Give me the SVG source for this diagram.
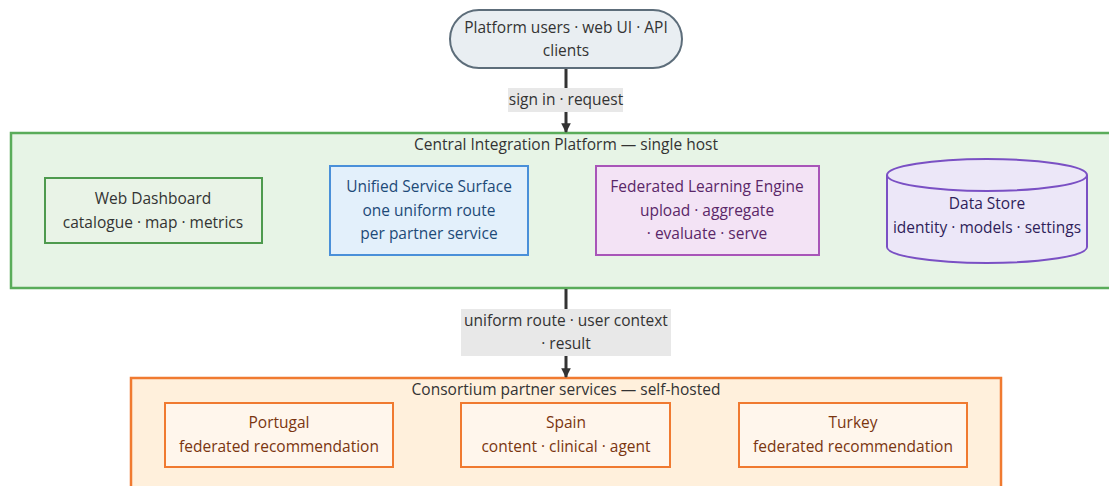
<svg xmlns="http://www.w3.org/2000/svg" width="1109" height="486" viewBox="0 0 1109 486">
  <defs>
    <marker id="arrow" viewBox="0 0 10 10" refX="9" refY="5" markerWidth="3.2" markerHeight="3.2" orient="auto-start-reverse">
      <path d="M0,0 L10,5 L0,10 z" fill="#333"/>
    </marker>
  </defs>
  <style>
    text { font-family: "Open Sans", "Liberation Sans", sans-serif; font-size: 15.5px; text-anchor: middle; fill: #333; }
    .edge { stroke: #333; stroke-width: 3; fill: none; }
    .elabel { fill: #e8e8e8; }
    .client { fill: #e9eef2; stroke: #5d6d7a; stroke-width: 2; }
    .central { fill: #e7f4e6; stroke: #5aac5a; stroke-width: 2.5; }
    .partners { fill: #fff0dc; stroke: #f07a30; stroke-width: 2.5; }
    .web { fill: #e9f3e7; stroke: #4e9a4e; stroke-width: 2; }
    .uss { fill: #e3f0fb; stroke: #4a90d9; stroke-width: 2; }
    .uss-t { fill: #1d4a78; }
    .fle { fill: #f3e3f5; stroke: #a855b8; stroke-width: 2; }
    .fle-t { fill: #5a2768; }
    .ds { fill: #ece7f8; stroke: #7a50c4; stroke-width: 2; }
    .ds-t { fill: #2f1e5a; }
    .partner { fill: #fff6ec; stroke: #f07a30; stroke-width: 2; }
    .partner-t { fill: #7a3510; }
  </style>

  <!-- Containers -->
  <g id="central-platform">
    <rect class="central" x="11" y="133" width="1100" height="155"/>
    <text x="566" y="150">Central Integration Platform — single host</text>
  </g>
  <g id="partner-services">
    <rect class="partners" x="131" y="378" width="870" height="112"/>
    <text x="566" y="395">Consortium partner services — self-hosted</text>
  </g>

  <!-- Connectors -->
  <g id="connectors">
    <line class="edge" x1="566" y1="68" x2="566" y2="132" marker-end="url(#arrow)"/>
    <rect class="elabel" x="508" y="88" width="115" height="24"/>
    <text x="566" y="105">sign in · request</text>

    <line class="edge" x1="566" y1="289" x2="566" y2="377" marker-end="url(#arrow)"/>
    <rect class="elabel" x="461" y="309" width="210" height="47"/>
    <text x="566" y="326">uniform route · user context</text>
    <text x="566" y="349">· result</text>
  </g>

  <!-- Nodes -->
  <g id="clients">
    <rect class="client" x="450" y="10" width="232" height="58" rx="29" ry="29"/>
    <text x="566" y="33">Platform users · web UI · API</text>
    <text x="566" y="56">clients</text>
  </g>

  <g id="web-dashboard">
    <rect class="web" x="45" y="178" width="217" height="65"/>
    <text x="153" y="204">Web Dashboard</text>
    <text x="153" y="228">catalogue · map · metrics</text>
  </g>

  <g id="unified-service-surface">
    <rect class="uss" x="330" y="166" width="198" height="89"/>
    <text class="uss-t" x="429" y="192">Unified Service Surface</text>
    <text class="uss-t" x="429" y="216">one uniform route</text>
    <text class="uss-t" x="429" y="239">per partner service</text>
  </g>

  <g id="federated-learning-engine">
    <rect class="fle" x="596" y="166" width="223" height="89"/>
    <text class="fle-t" x="707" y="192">Federated Learning Engine</text>
    <text class="fle-t" x="707" y="216">upload · aggregate</text>
    <text class="fle-t" x="707" y="239">· evaluate · serve</text>
  </g>

  <g id="data-store">
    <path class="ds" d="M887,175 A100,16 0 0 1 1087,175 L1087,247 A100,16 0 0 1 887,247 Z"/>
    <path class="ds" d="M887,175 A100,16 0 0 0 1087,175" fill="none"/>
    <text class="ds-t" x="987" y="209">Data Store</text>
    <text class="ds-t" x="987" y="233">identity · models · settings</text>
  </g>

  <g id="portugal">
    <rect class="partner" x="165" y="403" width="228" height="64"/>
    <text class="partner-t" x="279" y="428">Portugal</text>
    <text class="partner-t" x="279" y="452">federated recommendation</text>
  </g>

  <g id="spain">
    <rect class="partner" x="461" y="403" width="209" height="64"/>
    <text class="partner-t" x="566" y="428">Spain</text>
    <text class="partner-t" x="566" y="452">content · clinical · agent</text>
  </g>

  <g id="turkey">
    <rect class="partner" x="739" y="403" width="228" height="64"/>
    <text class="partner-t" x="853" y="428">Turkey</text>
    <text class="partner-t" x="853" y="452">federated recommendation</text>
  </g>
</svg>
